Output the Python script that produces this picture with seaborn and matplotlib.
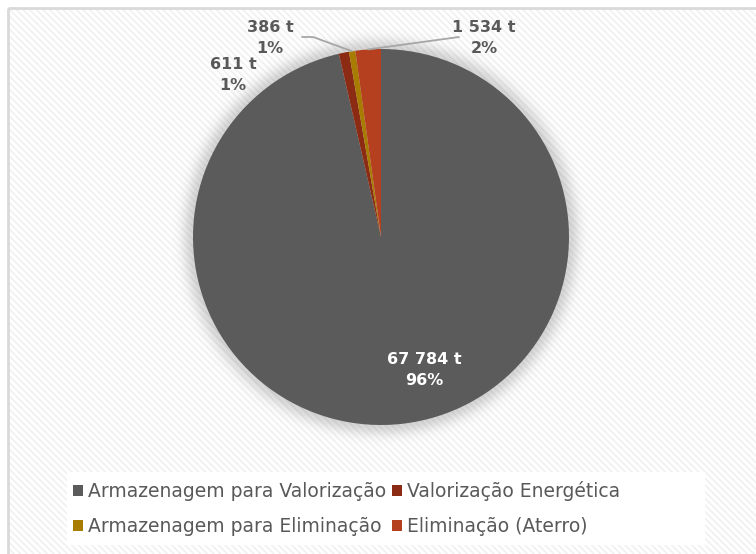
import numpy as np
import matplotlib
matplotlib.use("Agg")
import matplotlib.pyplot as plt
import seaborn as sns
from matplotlib.patches import Rectangle, Patch

# Data
CATEGORIES = [
    "Armazenagem para Valorização",
    "Valorização Energética",
    "Armazenagem para Eliminação",
    "Eliminação (Aterro)",
]
TONNES = [67784, 611, 386, 1534]
VALUE_LABELS = ["67 784 t", "611 t", "386 t", "1 534 t"]
PERCENT_LABELS = ["96%", "1%", "1%", "2%"]
COLORS = ["#5b5b5b", "#8c2b14", "#a87c00", "#b5401f"]

W, H = 756, 554
CX, CY, R = 381, 237, 188

sns.set_theme(style="white")
plt.rcParams["font.family"] = ["DejaVu Sans"]
plt.rcParams["hatch.linewidth"] = 1.2

fig = plt.figure(figsize=(W / 100, H / 100), dpi=100)
ax = fig.add_axes([0, 0, 1, 1])

# Striped chart-area background and light border
ax.add_patch(Rectangle((8, 8), W, H, facecolor="white", edgecolor="#f0f0f0",
                       hatch="\\\\\\\\\\", linewidth=0, zorder=0))
ax.add_patch(Rectangle((8, 8), W, H, fill=False, edgecolor="#d9d9d9",
                       linewidth=2, zorder=1))
# white box behind the legend
ax.add_patch(Rectangle((67, 472), 638, 73, facecolor="white", edgecolor="none",
                       zorder=1.5))

# Soft glow shadow around the pie
n = 480
xs = np.linspace(CX - 240, CX + 240, n)
ys = np.linspace(CY - 240, CY + 240, n)
gx, gy = np.meshgrid(xs, ys)
dist = np.hypot(gx - CX, gy - CY)
alpha = np.where(dist <= R, 0.25, 0.25 * np.exp(-((dist - R) / 11.0) ** 2))
shadow = np.zeros((n, n, 4))
shadow[..., :3] = 0.35
shadow[..., 3] = alpha
ax.imshow(shadow, extent=[CX - 240, CX + 240, CY + 240, CY - 240],
          zorder=2, interpolation="bilinear")

# y axis runs downward, so counterclock=True draws clockwise on screen
wedges, _ = ax.pie(TONNES, colors=COLORS, startangle=-90, counterclock=True,
                   center=(CX, CY), radius=R,
                   wedgeprops=dict(linewidth=0, antialiased=True))
for w in wedges:
    w.set_zorder(3)

ax.set_xlim(0, W)
ax.set_ylim(H, 0)
ax.axis("off")


def edge_point(wedge, frac=1.0):
    ang = np.deg2rad((wedge.theta1 + wedge.theta2) / 2)
    return CX + R * frac * np.cos(ang), CY + R * frac * np.sin(ang)


label_kw = dict(ha="center", va="center", fontsize=11.5, fontweight="bold",
                linespacing=1.5, zorder=5)

# Big slice label, inside
ax.text(424, 370, f"{VALUE_LABELS[0]}\n{PERCENT_LABELS[0]}", color="white",
        **label_kw)
# Small slices, outside
ax.text(233, 75, f"{VALUE_LABELS[1]}\n{PERCENT_LABELS[1]}", color="#595959",
        **label_kw)
ax.text(270, 38, f"{VALUE_LABELS[2]}\n{PERCENT_LABELS[2]}", color="#595959",
        **label_kw)
ax.text(484, 38, f"{VALUE_LABELS[3]}\n{PERCENT_LABELS[3]}", color="#595959",
        **label_kw)

# Leader lines
px, py = edge_point(wedges[2])
ax.plot([302, 313, px], [37, 37, py], color="#a6a6a6", lw=1.3, zorder=4)
px, py = edge_point(wedges[3])
ax.plot([459, px], [37, py], color="#a6a6a6", lw=1.3, zorder=4)

# Legend: two rows, ordered row-wise like the reference
handles = [Patch(facecolor=c, edgecolor="none") for c in COLORS]
order = [0, 2, 1, 3]
leg = ax.legend([handles[i] for i in order], [CATEGORIES[i] for i in order],
                ncol=2, loc="upper left", bbox_to_anchor=(73 / W, 1 - 481 / H),
                frameon=False, fontsize=13.5,
                handlelength=0.55, handleheight=0.55, handletextpad=0.25,
                columnspacing=0.3, labelspacing=0.85, borderpad=0,
                borderaxespad=0)
leg.set_zorder(6)
for t in leg.get_texts():
    t.set_color("#595959")

fig.savefig("out.png", dpi=100)
